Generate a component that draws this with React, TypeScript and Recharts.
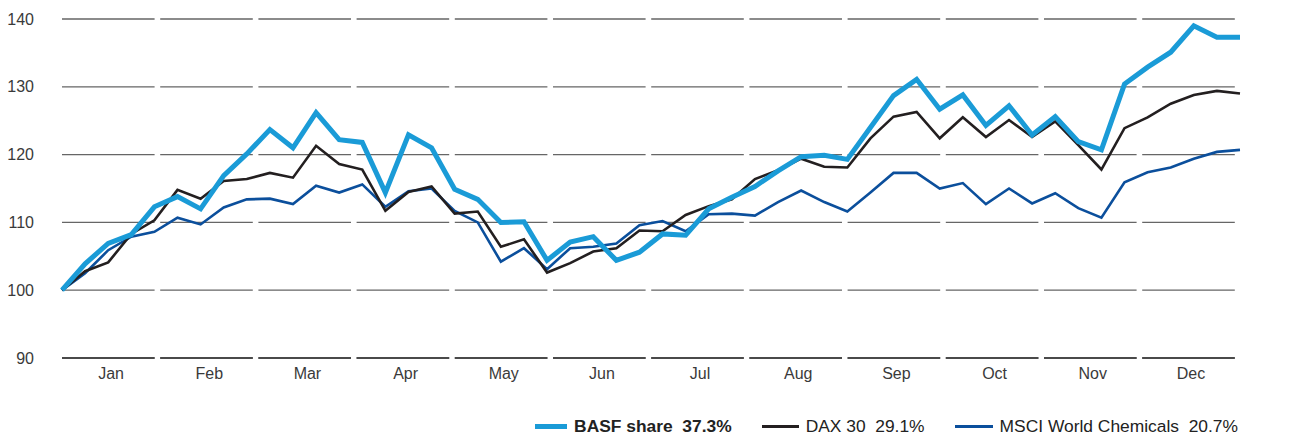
import React from "react";
import { LineChart, Line, XAxis, YAxis, CartesianGrid, ReferenceLine } from "recharts";

const months = ["Jan", "Feb", "Mar", "Apr", "May", "Jun", "Jul", "Aug", "Sep", "Oct", "Nov", "Dec"];
const yTicks = [90, 100, 110, 120, 130, 140];

const basf = [
  100, 103.9, 106.9, 108.2, 112.3, 113.8, 112.0, 116.9, 120.1, 123.7,
  121.0, 126.2, 122.2, 121.8, 114.4, 122.9, 121.0, 114.9, 113.4, 110.0,
  110.1, 104.4, 107.1, 107.9, 104.4, 105.6, 108.3, 108.1, 112.0, 113.7,
  115.3, 117.6, 119.7, 119.9, 119.3, 124.0, 128.7, 131.1, 126.7, 128.8,
  124.3, 127.2, 122.9, 125.6, 121.9, 120.7, 130.4, 132.9, 135.1, 139.0,
  137.3, 137.3,
];
const dax = [
  100, 102.8, 104.1, 108.3, 110.3, 114.8, 113.5, 116.1, 116.4, 117.3,
  116.6, 121.3, 118.6, 117.8, 111.7, 114.5, 115.3, 111.3, 111.6, 106.4,
  107.5, 102.6, 104.0, 105.7, 106.2, 108.8, 108.7, 111.1, 112.4, 113.4,
  116.4, 117.7, 119.4, 118.2, 118.1, 122.4, 125.6, 126.3, 122.4, 125.5,
  122.6, 125.1, 122.6, 124.9, 121.4, 117.8, 123.9, 125.5, 127.5, 128.8,
  129.4, 129.0,
];
const msci = [
  100, 102.5, 105.9, 107.9, 108.6, 110.7, 109.7, 112.2, 113.4, 113.5,
  112.7, 115.4, 114.4, 115.6, 112.3, 114.6, 115.0, 111.7, 110.0, 104.2,
  106.2, 103.1, 106.2, 106.4, 106.9, 109.6, 110.2, 108.7, 111.2, 111.3,
  111.0, 113.0, 114.7, 113.0, 111.6, 114.4, 117.3, 117.3, 115.0, 115.8,
  112.7, 115.0, 112.8, 114.3, 112.1, 110.7, 115.9, 117.4, 118.1, 119.4,
  120.4, 120.7,
];

const legendItems = [
  { label: "BASF share", value: "37.3%", color: "#1a9bd7", width: 5, len: 32, bold: true },
  { label: "DAX 30", value: "29.1%", color: "#231f20", width: 2.5, len: 37, bold: false },
  { label: "MSCI World Chemicals", value: "20.7%", color: "#0b4f9c", width: 3, len: 38, bold: false },
];

const data = basf.map((v, i) => ({ i, basf: v, dax: dax[i], msci: msci[i] }));
const lastIndex = basf.length - 1;
const monthSpan = lastIndex / months.length;
const monthTicks = months.map((_, m) => (m + 0.5) * monthSpan);

const FONT = "'Liberation Sans', Arial, sans-serif";
const DASH = "92.6 5.6";

export default function App() {
  return (
    <div style={{ position: "absolute", left: 0, top: 0, width: 1301, height: 436, background: "#fff", fontFamily: FONT }}>
      <LineChart width={1301} height={436} data={data} margin={{ top: 19, right: 0, bottom: 48, left: 0 }}>
        <XAxis
          xAxisId="d"
          dataKey="i"
          type="number"
          domain={[0, lastIndex]}
          ticks={monthTicks}
          tickFormatter={(v: number) => months[Math.min(11, Math.floor(v / monthSpan))]}
          axisLine={false}
          tickLine={false}
          tickSize={0}
          tickMargin={10}
          height={30}
          interval={0}
          tick={{ fill: "#3a3a3a", fontSize: 16, fontFamily: FONT }}
        />
        <YAxis
          yAxisId="l"
          domain={[90, 140]}
          ticks={yTicks}
          axisLine={false}
          tickLine={false}
          tickSize={0}
          tickMargin={28}
          width={62}
          interval={0}
          tick={{ fill: "#3a3a3a", fontSize: 16, fontFamily: FONT }}
        />
        <YAxis
          yAxisId="r"
          orientation="right"
          domain={[90, 140]}
          ticks={yTicks}
          axisLine={false}
          tickLine={false}
          tickSize={0}
          tickMargin={21}
          width={61}
          interval={0}
          tick={{ fill: "#3a3a3a", fontSize: 16, fontFamily: FONT, textAnchor: "start" }}
        />
        <CartesianGrid
          xAxisId="d"
          yAxisId="l"
          vertical={false}
          stroke="#666"
          strokeWidth={1.3}
          strokeDasharray={DASH}
        />
        <ReferenceLine xAxisId="d" yAxisId="l" y={90} stroke="#4a4a4a" strokeWidth={2.2} strokeDasharray={DASH} />
        <Line xAxisId="d" yAxisId="l" type="linear" dataKey="msci" stroke="#0b4f9c" strokeWidth={2.6} dot={false} isAnimationActive={false} />
        <Line xAxisId="d" yAxisId="l" type="linear" dataKey="dax" stroke="#231f20" strokeWidth={2.6} dot={false} isAnimationActive={false} />
        <Line xAxisId="d" yAxisId="l" type="linear" dataKey="basf" stroke="#1a9bd7" strokeWidth={5} dot={false} isAnimationActive={false} />
      </LineChart>
      <div
        style={{
          position: "absolute",
          right: 63,
          top: 416,
          display: "flex",
          alignItems: "center",
          fontSize: 17.4,
          color: "#222",
          whiteSpace: "pre",
        }}
      >
        {legendItems.map((it, k) => (
          <div key={k} style={{ display: "flex", alignItems: "center", marginLeft: k === 0 ? 0 : 30 }}>
            <div style={{ width: it.len, height: it.width, background: it.color, marginRight: 7 }} />
            <span style={{ fontWeight: it.bold ? 700 : 400 }}>{it.label + "  " + it.value}</span>
          </div>
        ))}
      </div>
    </div>
  );
}
